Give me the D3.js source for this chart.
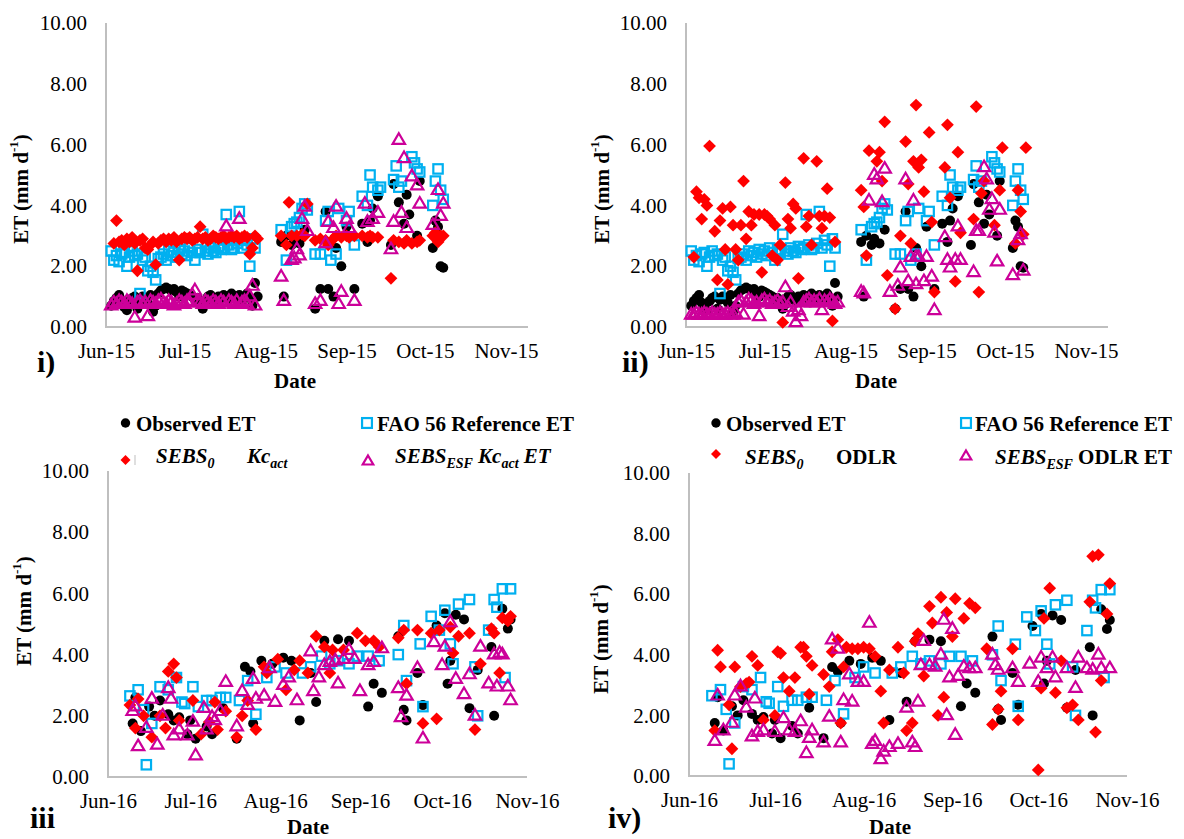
<!DOCTYPE html>
<html>
<head>
<meta charset="utf-8">
<script src="https://cdn.jsdelivr.net/npm/d3@7"></script>
<style>
  body { margin: 0; background: #fff; }
  svg { display: block; }
  text { font-family: "Liberation Serif", "Times New Roman", "DejaVu Serif", serif; fill: #000; }
</style>
</head>
<body>
<svg id="chart" width="1184" height="839"></svg>
<script>
// ---- Axis ticks ----
const yTicks = [0, 2, 4, 6, 8, 10];
const monthTicks = ["06-01", "07-01", "08-01", "09-01", "10-01", "11-01"];

// ---- 2015 season (panels i and ii): [month-day, ET mm/d] ----
const observed2015 = [
  ["06-03",0.7],["06-04",0.85],["06-05",0.95],["06-06",1.05],["06-07",0.8],["06-08",0.65],["06-09",0.55],["06-10",0.85],
  ["06-11",0.95],["06-12",1.0],["06-13",0.6],["06-14",0.9],["06-15",1.0],["06-16",0.95],["06-17",0.8],["06-18",1.05],
  ["06-19",0.5],["06-20",0.7],["06-21",1.1],["06-22",1.2],["06-23",1.25],["06-24",1.3],["06-25",1.25],["06-26",1.2],
  ["06-27",1.25],["06-28",1.15],["06-29",1.0],["06-30",1.2],["07-01",1.15],["07-02",1.1],["07-03",1.05],["07-04",1.0],
  ["07-05",0.9],["07-06",0.95],["07-07",0.8],["07-08",0.6],["07-09",0.75],["07-10",1.0],["07-11",1.05],["07-12",0.9],
  ["07-13",0.85],["07-14",1.0],["07-15",0.95],["07-16",1.05],["07-17",1.0],["07-18",0.9],["07-19",1.1],["07-20",0.95],
  ["07-21",1.0],["07-22",1.05],["07-23",0.85],["07-24",0.95],["07-25",1.1],["07-26",0.95],["07-27",0.7],["07-28",1.45],
  ["07-29",1.0],
  ["08-07",2.8],["08-08",1.0],["08-09",3.0],["08-11",2.7],["08-12",2.9],["08-14",2.75],["08-16",3.2],["08-20",0.6],
  ["08-22",1.25],["08-24",3.8],["08-25",1.25],["08-27",1.0],["08-28",2.6],["08-30",2.0],["09-01",3.3],["09-04",1.25],
  ["09-07",3.4],["09-09",2.8],["09-10",3.5],["09-11",3.9],["09-13",4.3],["09-18",2.7],["09-19",4.7],["09-21",4.1],
  ["09-23",3.4],["09-24",4.35],["09-25",3.7],["09-28",3.0],["09-29",4.8],["10-04",2.6],["10-05",3.5],["10-06",3.3],
  ["10-07",2.0],["10-08",1.95]
];
const fao2015 = [
  ["06-03",2.5],["06-04",2.2],["06-05",2.35],["06-06",2.15],["06-07",2.4],["06-08",2.45],["06-09",2.0],["06-10",2.3],
  ["06-11",2.5],["06-12",2.35],["06-13",2.4],["06-14",1.1],["06-15",2.2],["06-16",2.3],["06-17",1.85],["06-18",2.0],
  ["06-19",1.8],["06-20",1.55],["06-21",2.25],["06-22",2.3],["06-23",2.4],["06-24",2.2],["06-25",2.5],["06-26",2.35],
  ["06-27",2.45],["06-28",2.3],["06-29",2.55],["06-30",2.4],["07-01",2.5],["07-02",2.35],["07-03",2.6],["07-04",2.45],
  ["07-05",2.2],["07-06",2.55],["07-07",2.45],["07-08",3.05],["07-09",2.5],["07-10",2.4],["07-11",2.6],["07-12",2.5],
  ["07-13",2.45],["07-14",2.65],["07-15",2.55],["07-16",2.6],["07-17",3.7],["07-18",2.7],["07-19",2.55],["07-20",2.6],
  ["07-21",2.75],["07-22",3.8],["07-23",2.6],["07-24",2.85],["07-25",2.7],["07-26",2.0],["07-27",2.9],["07-28",2.6],
  ["08-07",3.2],["08-09",2.2],["08-11",3.3],["08-12",3.4],["08-13",3.45],["08-14",3.6],["08-15",3.9],["08-16",4.05],
  ["08-17",3.85],["08-20",2.4],["08-22",2.4],["08-24",3.5],["08-25",3.8],["08-26",2.2],["08-28",2.4],["08-29",3.9],
  ["09-01",3.5],["09-02",3.8],["09-04",2.7],["09-07",4.3],["09-09",4.0],["09-10",5.0],["09-11",4.6],["09-13",4.5],
  ["09-14",4.6],["09-19",4.85],["09-20",5.3],["09-21",4.6],["09-22",4.8],["09-26",5.6],["09-27",5.4],["09-28",5.2],
  ["09-29",5.1],["10-04",4.0],["10-05",4.8],["10-06",5.2],["10-07",4.5],["10-08",4.2]
];
const sebsKc2015 = [
  ["06-04",2.75],["06-05",3.5],["06-06",2.8],["06-07",2.85],["06-08",2.7],["06-09",2.9],["06-10",2.8],["06-11",2.95],
  ["06-12",2.75],["06-13",1.85],["06-14",2.85],["06-15",2.9],["06-16",2.6],["06-17",2.55],["06-18",2.7],["06-19",2.8],
  ["06-20",2.05],["06-21",2.75],["06-22",2.85],["06-23",2.9],["06-24",2.8],["06-25",2.9],["06-26",2.85],["06-27",2.95],
  ["06-28",2.8],["06-29",2.2],["06-30",2.9],["07-01",2.95],["07-02",2.9],["07-03",2.95],["07-04",2.85],["07-05",2.9],
  ["07-06",2.95],["07-07",3.3],["07-08",2.9],["07-09",2.95],["07-10",2.85],["07-11",2.9],["07-12",3.0],["07-13",2.95],
  ["07-14",2.9],["07-15",2.95],["07-16",3.0],["07-17",2.9],["07-18",2.95],["07-19",3.0],["07-20",2.95],["07-21",3.0],
  ["07-22",2.9],["07-23",2.95],["07-24",3.0],["07-25",2.95],["07-26",2.4],["07-27",2.6],["07-28",3.0],["07-29",2.9],
  ["08-07",3.0],["08-09",2.7],["08-10",4.1],["08-11",3.0],["08-13",3.0],["08-15",3.05],["08-16",3.0],["08-17",4.05],
  ["08-20",2.85],["08-22",2.9],["08-24",2.85],["08-25",2.7],["08-27",2.9],["08-28",3.0],["08-30",2.95],["09-01",3.0],
  ["09-02",2.95],["09-04",3.0],["09-07",3.0],["09-09",2.95],["09-10",3.0],["09-11",2.95],["09-13",2.95],["09-18",1.6],
  ["09-19",2.85],["09-21",2.8],["09-23",2.75],["09-24",2.85],["09-26",2.75],["09-28",2.8],["09-29",2.85],["10-04",3.0],
  ["10-05",3.1],["10-06",2.8],["10-07",3.0],["10-08",3.0]
];
const esfKc2015 = [
  ["06-03",0.75],["06-04",0.85],["06-05",0.8],["06-06",0.9],["06-07",0.85],["06-08",0.8],["06-09",0.9],["06-10",0.85],
  ["06-11",0.8],["06-12",0.35],["06-13",0.85],["06-14",0.9],["06-15",0.8],["06-16",0.85],["06-17",0.4],["06-18",0.9],
  ["06-19",0.85],["06-20",0.8],["06-21",0.9],["06-22",0.95],["06-23",0.85],["06-24",0.8],["06-25",0.9],["06-26",0.85],
  ["06-27",0.75],["06-28",0.8],["06-29",0.9],["06-30",0.85],["07-01",0.8],["07-02",0.9],["07-03",0.85],["07-04",1.1],
  ["07-05",1.25],["07-06",0.9],["07-07",0.85],["07-08",0.8],["07-09",0.9],["07-10",0.85],["07-11",0.8],["07-12",0.9],
  ["07-13",0.85],["07-14",0.8],["07-15",0.9],["07-16",0.85],["07-17",3.35],["07-18",0.9],["07-19",0.85],["07-20",0.8],
  ["07-21",0.9],["07-22",3.6],["07-23",0.85],["07-24",0.9],["07-25",0.8],["07-26",1.05],["07-27",1.4],["07-28",0.75],
  ["08-07",1.7],["08-08",0.9],["08-11",2.25],["08-12",2.3],["08-13",2.6],["08-14",2.4],["08-15",3.6],["08-16",4.0],
  ["08-17",3.2],["08-20",0.8],["08-22",0.9],["08-24",2.8],["08-25",3.5],["08-27",3.3],["08-28",4.0],["08-29",0.8],
  ["08-30",1.2],["09-01",3.6],["09-02",3.3],["09-04",0.9],["09-08",4.1],["09-09",3.5],["09-11",3.6],["09-13",3.8],
  ["09-18",2.6],["09-19",3.5],["09-21",6.2],["09-22",3.8],["09-23",5.6],["09-24",3.3],["09-26",5.0],["09-28",4.7],
  ["09-29",4.1],["10-04",3.4],["10-06",4.55],["10-07",3.7],["10-08",4.1]
];
const sebsOdlr2015 = [
  ["06-04",2.3],["06-05",4.45],["06-06",4.25],["06-07",3.55],["06-08",4.2],["06-09",4.0],["06-10",5.95],["06-12",3.15],
  ["06-13",1.55],["06-14",3.5],["06-15",3.9],["06-16",2.55],["06-17",1.4],["06-18",3.95],["06-19",3.35],["06-20",2.55],
  ["06-21",2.2],["06-22",3.35],["06-23",4.8],["06-24",2.9],["06-25",3.8],["06-26",3.35],["06-27",3.7],["06-29",3.7],
  ["06-30",1.8],["07-01",3.7],["07-02",3.65],["07-03",3.55],["07-04",2.35],["07-05",3.35],["07-06",2.2],["07-07",2.7],
  ["07-08",0.15],["07-09",4.75],["07-10",3.55],["07-11",3.25],["07-12",4.05],["07-13",3.9],["07-14",1.6],["07-16",5.55],
  ["07-17",3.3],["07-18",3.65],["07-19",2.7],["07-21",5.45],["07-22",3.65],["07-23",3.25],["07-24",3.65],["07-25",4.55],
  ["07-26",3.6],["07-27",0.2],["07-28",2.8],
  ["08-07",4.5],["08-08",3.95],["08-09",2.35],["08-10",5.8],["08-13",5.45],["08-14",5.75],["08-15",4.8],["08-16",6.75],
  ["08-17",1.7],["08-20",0.6],["08-22",3.0],["08-24",6.1],["08-25",4.7],["08-26",2.75],["08-27",5.45],["08-28",7.3],
  ["08-29",5.25],["08-30",5.5],["08-31",4.45],["09-02",6.4],["09-03",3.45],["09-04",1.15],["09-08",5.25],["09-09",6.65],
  ["09-10",4.25],["09-12",1.5],["09-13",5.75],["09-14",3.1],["09-19",3.55],["09-20",7.25],["09-21",1.15],["09-22",4.4],
  ["09-23",4.8],["09-27",3.35],["09-29",4.5],["09-30",5.9],["10-05",2.75],["10-06",4.5],["10-07",3.8],["10-08",3.05],
  ["10-09",5.9]
];
const esfOdlr2015 = [
  ["06-03",0.45],["06-04",0.45],["06-05",0.5],["06-06",0.45],["06-07",0.45],["06-08",0.5],["06-09",0.45],["06-10",0.45],
  ["06-11",0.5],["06-12",0.45],["06-13",0.45],["06-14",0.5],["06-15",0.45],["06-16",0.45],["06-17",0.5],["06-18",0.45],
  ["06-19",0.45],["06-20",0.5],["06-21",0.85],["06-22",0.9],["06-23",0.45],["06-24",0.85],["06-25",0.95],["06-26",0.9],
  ["06-27",0.8],["06-28",0.85],["06-29",0.4],["06-30",0.9],["07-01",0.95],["07-02",0.85],["07-03",0.9],["07-04",0.8],
  ["07-05",0.85],["07-06",0.9],["07-07",0.8],["07-08",0.85],["07-09",1.35],["07-10",0.7],["07-11",0.85],["07-12",0.55],
  ["07-13",0.2],["07-14",0.6],["07-15",0.4],["07-16",0.85],["07-17",0.9],["07-18",0.95],["07-19",0.85],["07-20",0.9],
  ["07-21",0.85],["07-22",0.95],["07-23",0.6],["07-24",0.9],["07-25",0.85],["07-26",0.95],["07-27",0.9],["07-28",0.8],
  ["07-29",0.85],
  ["08-07",1.2],["08-08",1.15],["08-10",4.2],["08-12",5.05],["08-13",4.9],["08-15",4.15],["08-16",5.25],["08-18",1.2],
  ["08-21",1.4],["08-22",2.0],["08-24",4.9],["08-25",1.55],["08-26",2.35],["08-27",4.2],["08-28",2.35],["08-28",1.45],
  ["08-29",2.35],["08-31",1.55],["09-01",2.35],["09-03",1.7],["09-04",0.6],["09-08",3.0],["09-09",2.25],["09-10",2.0],
  ["09-12",2.25],["09-13",3.35],["09-14",2.25],["09-19",1.85],["09-20",3.2],["09-21",3.2],["09-23",5.3],["09-24",4.9],
  ["09-25",3.9],["09-26",4.25],["09-27",3.15],["09-28",2.2],["09-29",3.9],["10-04",1.75],["10-06",2.9],["10-07",3.1],
  ["10-08",1.9]
];

// ---- 2016 season (panels iii and iv) ----
const observed2016 = [
  ["06-10",1.75],["06-11",2.6],["06-13",1.5],["06-16",2.3],["06-18",2.0],["06-20",2.5],["06-23",2.05],["06-25",1.85],
  ["06-27",1.95],["06-30",1.4],["07-01",1.85],["07-03",1.25],["07-07",1.65],["07-09",1.4],["07-13",2.25],["07-18",1.25],
  ["07-21",3.6],["07-23",3.45],["07-24",1.75],["07-27",3.8],["07-31",3.7],["08-04",3.9],["08-07",3.8],["08-10",1.85],
  ["08-14",3.4],["08-16",2.45],["08-19",4.45],["08-24",4.5],["08-28",4.45],["09-04",2.3],["09-06",3.05],["09-09",2.75],
  ["09-15",4.6],["09-17",2.2],["09-18",1.85],["09-22",3.4],["09-24",2.35],["09-29",4.95],["10-02",5.35],["10-03",3.05],
  ["10-04",3.8],["10-06",5.3],["10-09",5.15],["10-11",2.25],["10-14",3.5],["10-19",4.25],["10-20",2.0],["10-23",5.5],
  ["10-25",4.85],["10-26",5.15]
];
const fao2016 = [
  ["06-09",2.65],["06-12",2.85],["06-14",2.2],["06-15",0.4],["06-17",1.75],["06-20",2.95],["06-23",2.85],["06-26",3.25],
  ["06-28",2.45],["06-29",2.4],["07-02",2.95],["07-04",2.3],["07-07",2.5],["07-09",2.5],["07-12",2.6],["07-14",2.6],
  ["07-19",2.5],["07-22",3.15],["07-25",2.05],["07-29",3.25],["08-01",3.6],["08-05",3.4],["08-11",3.4],["08-14",3.6],
  ["08-18",3.95],["08-21",3.7],["08-24",3.8],["08-28",3.7],["08-31",3.95],["09-04",3.95],["09-08",3.8],["09-15",4.0],
  ["09-17",4.95],["09-18",3.15],["09-23",4.35],["09-24",2.3],["09-27",5.25],["09-30",4.8],["10-02",5.45],["10-04",4.35],
  ["10-05",3.7],["10-07",5.65],["10-11",5.8],["10-13",3.6],["10-14",2.0],["10-18",4.8],["10-20",5.8],["10-21",5.55],
  ["10-23",6.15],["10-24",3.25],["10-26",6.15]
];
const sebsKc2016 = [
  ["06-09",2.35],["06-11",1.6],["06-12",2.55],["06-14",2.0],["06-17",1.3],["06-20",2.0],["06-22",1.6],["06-23",3.45],
  ["06-25",3.7],["06-26",3.25],["06-27",1.85],["07-02",2.5],["07-05",1.4],["07-08",1.8],["07-10",2.45],["07-11",1.55],
  ["07-14",2.15],["07-18",1.3],["07-20",2.0],["07-22",2.5],["07-25",1.55],["07-28",3.6],["07-29",3.4],["08-02",3.85],
  ["08-05",2.85],["08-08",3.5],["08-10",3.8],["08-13",3.4],["08-16",4.6],["08-19",4.25],["08-21",3.4],["08-22",4.15],
  ["08-26",4.15],["08-31",4.7],["09-03",4.45],["09-06",4.45],["09-08",4.25],["09-15",4.55],["09-17",4.8],["09-18",3.05],
  ["09-22",4.8],["09-24",1.75],["09-27",4.7],["09-29",1.9],["09-30",4.8],["10-04",4.9],["10-05",4.05],["10-07",4.6],
  ["10-11",4.7],["10-13",1.55],["10-15",3.7],["10-19",4.85],["10-20",4.7],["10-22",3.4],["10-23",5.2],["10-25",5.1],
  ["10-26",5.25]
];
const esfKc2016 = [
  ["06-10",2.2],["06-11",2.35],["06-12",1.05],["06-15",1.65],["06-17",2.6],["06-19",1.1],["06-21",2.05],["06-23",2.95],
  ["06-24",2.6],["06-25",1.4],["06-27",1.6],["06-30",1.4],["07-02",1.85],["07-03",0.75],["07-06",2.3],["07-07",1.6],
  ["07-09",2.0],["07-10",1.9],["07-12",2.2],["07-14",3.15],["07-18",1.7],["07-20",2.85],["07-22",2.4],["07-24",3.25],
  ["07-25",2.6],["07-28",2.7],["07-30",3.6],["08-01",2.5],["08-04",3.05],["08-06",3.3],["08-09",2.55],["08-14",4.15],
  ["08-15",2.85],["08-17",3.3],["08-19",3.7],["08-21",3.8],["08-23",3.85],["08-24",3.1],["08-26",3.9],["08-28",4.2],
  ["08-30",3.9],["09-01",2.85],["09-04",3.7],["09-06",3.8],["09-09",4.25],["09-15",2.95],["09-16",2.0],["09-18",2.7],
  ["09-22",3.6],["09-24",1.3],["09-28",4.45],["10-01",3.7],["10-02",4.3],["10-04",5.1],["10-06",3.25],["10-09",2.75],
  ["10-11",3.4],["10-13",2.05],["10-15",4.3],["10-18",3.1],["10-20",4.05],["10-21",3.0],["10-22",4.1],["10-23",4.05],
  ["10-25",3.0],["10-26",2.55]
];
const sebsOdlr2016 = [
  ["06-10",1.5],["06-11",4.15],["06-12",3.6],["06-15",2.35],["06-16",0.9],["06-17",3.6],["06-19",2.95],["06-21",3.05],
  ["06-22",3.1],["06-23",3.95],["06-25",3.65],["06-27",1.85],["07-01",2.0],["07-02",4.1],["07-03",4.05],["07-04",3.25],
  ["07-06",2.8],["07-08",3.25],["07-10",4.25],["07-11",4.25],["07-12",3.95],["07-13",2.7],["07-14",3.65],["07-18",3.35],
  ["07-20",2.95],["07-21",4.1],["07-23",4.5],["07-24",1.75],["07-25",3.6],["07-26",4.25],["07-28",4.2],["07-30",4.2],
  ["08-01",4.25],["08-03",4.2],["08-05",3.95],["08-07",2.8],["08-08",1.75],["08-10",3.5],["08-13",4.25],["08-15",3.4],
  ["08-16",1.5],["08-18",1.75],["08-19",4.45],["08-20",4.7],["08-22",3.3],["08-24",5.6],["08-25",5.05],["08-27",2.0],
  ["08-28",5.9],["08-29",2.6],["08-30",5.4],["09-01",4.6],["09-02",5.85],["09-05",5.2],["09-07",5.7],["09-09",5.55],
  ["09-13",4.2],["09-15",1.7],["09-17",2.2],["09-18",2.8],["09-22",4.2],["09-24",1.85],["10-01",0.2],["10-02",2.9],
  ["10-03",5.2],["10-05",6.2],["10-07",2.75],["10-09",3.8],["10-11",2.25],["10-13",2.35],["10-15",1.85],["10-19",5.75],
  ["10-20",7.25],["10-21",1.45],["10-22",7.3],["10-23",3.15],["10-25",5.35],["10-26",6.35]
];
const esfOdlr2016 = [
  ["06-10",1.2],["06-11",2.7],["06-13",1.55],["06-16",1.8],["06-17",2.7],["06-19",3.0],["06-21",2.3],["06-23",1.35],
  ["06-24",2.6],["06-25",1.5],["06-27",1.55],["07-01",1.5],["07-04",1.95],["07-06",1.55],["07-08",1.5],["07-10",1.85],
  ["07-12",0.8],["07-13",1.3],["07-14",1.55],["07-18",1.15],["07-20",2.0],["07-21",4.55],["07-23",4.25],["07-24",1.15],
  ["07-25",2.55],["07-27",3.4],["07-28",2.5],["07-30",3.15],["08-01",3.15],["08-03",5.1],["08-04",1.1],["08-05",1.2],
  ["08-07",0.6],["08-08",0.85],["08-10",1.0],["08-13",1.1],["08-16",2.3],["08-18",1.15],["08-19",1.0],["08-20",2.5],
  ["08-21",3.7],["08-22",4.5],["08-24",3.7],["08-26",3.65],["08-28",4.05],["08-29",5.2],["08-30",2.05],["08-31",3.3],
  ["09-01",4.9],["09-02",1.4],["09-03",3.35],["09-05",3.65],["09-07",3.6],["09-09",3.6],["09-15",4.05],["09-16",3.7],
  ["09-17",3.55],["09-22",3.6],["09-24",3.15],["09-28",3.75],["10-01",3.15],["10-02",3.95],["10-04",3.6],["10-06",3.95],
  ["10-07",3.3],["10-11",3.6],["10-14",2.95],["10-15",3.95],["10-18",3.6],["10-20",3.55],["10-22",4.05],["10-23",3.6],
  ["10-26",3.6]
];

// ---- Series styling ----
const C_OBS = "#000000", C_FAO = "#00B0F0", C_SEBS = "#FF0000", C_ESF = "#CC0099";
const markerKinds = ["circle", "square", "diamond", "triangle"];
const FONT = "'Liberation Serif', 'Times New Roman', 'DejaVu Serif', serif";

// ---- Panel layout ----
const panels = [
  { tag: "i)",  year: 2015, series: [observed2015, fao2015, sebsKc2015, esfKc2015],
    x0: 106, xNov: 506, xEnd: 528, yTop: 23, yBot: 327,
    tagX: 37, tagY: 372, dateX: 295, dateY: 388, yTitleX: 21, yTitleY: 189 },
  { tag: "ii)", year: 2015, series: [observed2015, fao2015, sebsOdlr2015, esfOdlr2015],
    x0: 686, xNov: 1086, xEnd: 1108, yTop: 23, yBot: 327,
    tagX: 622, tagY: 372, dateX: 876, dateY: 388, yTitleX: 602, yTitleY: 189 },
  { tag: "iii", year: 2016, series: [observed2016, fao2016, sebsKc2016, esfKc2016],
    x0: 108, xNov: 527, xEnd: 527, yTop: 471, yBot: 777,
    tagX: 30, tagY: 828, dateX: 308, dateY: 834, yTitleX: 24, yTitleY: 611 },
  { tag: "iv)", year: 2016, series: [observed2016, fao2016, sebsOdlr2016, esfOdlr2016],
    x0: 689, xNov: 1127, xEnd: 1127, yTop: 473, yBot: 776,
    tagX: 608, tagY: 828, dateX: 890, dateY: 834, yTitleX: 601, yTitleY: 639 }
];

const svg = d3.select("#chart").attr("font-family", FONT);
const toDate = (year, md) => new Date(`${year}-${md}T00:00:00Z`);

// Marker shapes
function drawMarker(sel, kind, cx, cy, scale = 1) {
  if (kind === "circle") {
    sel.append("circle").attr("cx", cx).attr("cy", cy).attr("r", 5 * scale).attr("fill", C_OBS);
  } else if (kind === "square") {
    const s = 9.4 * scale;
    sel.append("rect").attr("x", cx - s / 2).attr("y", cy - s / 2).attr("width", s).attr("height", s)
      .attr("fill", "none").attr("stroke", C_FAO).attr("stroke-width", 2.2);
  } else if (kind === "diamond") {
    const h = 6.4 * scale;
    sel.append("path").attr("d", `M${cx},${cy - h}L${cx + h},${cy}L${cx},${cy + h}L${cx - h},${cy}Z`)
      .attr("fill", C_SEBS);
  } else {
    const w = 6.2 * scale, ht = 10.6 * scale;
    sel.append("path").attr("d", `M${cx},${cy - ht / 2}L${cx + w},${cy + ht / 2}L${cx - w},${cy + ht / 2}Z`)
      .attr("fill", "none").attr("stroke", C_ESF).attr("stroke-width", 2.2).attr("stroke-linejoin", "miter");
  }
}

function drawPanel(p) {
  const g = svg.append("g");
  const x = d3.scaleUtc([toDate(p.year, "06-01"), toDate(p.year, "11-01")], [p.x0, p.xNov]);
  const y = d3.scaleLinear([0, 10], [p.yBot, p.yTop]);

  // Axis lines
  g.append("line").attr("x1", p.x0).attr("x2", p.x0).attr("y1", p.yTop).attr("y2", p.yBot)
    .attr("stroke", "#BFBFBF").attr("stroke-width", 2);
  g.append("line").attr("x1", p.x0 - 1).attr("x2", p.xEnd).attr("y1", p.yBot).attr("y2", p.yBot)
    .attr("stroke", "#BFBFBF").attr("stroke-width", 2);

  // Y axis ticks
  g.append("g").attr("transform", `translate(${p.x0},0)`)
    .call(d3.axisLeft(y).tickValues(yTicks).tickFormat(d3.format(".2f")).tickSize(0).tickPadding(19))
    .call(a => a.select(".domain").remove())
    .call(a => a.attr("font-family", FONT))
    .call(a => a.selectAll("text").attr("font-family", FONT).attr("font-size", 21).attr("fill", "#000"));

  // X axis ticks (months)
  g.append("g").attr("transform", `translate(0,${p.yBot})`)
    .call(d3.axisBottom(x).tickValues(monthTicks.map(m => toDate(p.year, m)))
      .tickFormat(d3.utcFormat("%b-%y")).tickSize(0).tickPadding(16))
    .call(a => a.select(".domain").remove())
    .call(a => a.attr("font-family", FONT))
    .call(a => a.selectAll("text").attr("font-family", FONT).attr("font-size", 21).attr("fill", "#000"));

  // Points, drawn series by series
  p.series.forEach((data, k) => {
    const sg = g.append("g");
    data.forEach(([md, v]) => drawMarker(sg, markerKinds[k], x(toDate(p.year, md)), y(v)));
  });

  // Axis titles
  g.append("text").attr("x", p.dateX).attr("y", p.dateY).attr("text-anchor", "middle")
    .attr("font-weight", "bold").attr("font-size", 21).text("Date");
  const yt = g.append("text").attr("transform", `translate(${p.yTitleX},${p.yTitleY}) rotate(-90)`)
    .attr("text-anchor", "middle").attr("dominant-baseline", "central")
    .attr("font-weight", "bold").attr("font-size", 21);
  yt.append("tspan").text("ET (mm d");
  yt.append("tspan").attr("font-size", 13).attr("dy", -8).text("-1");
  yt.append("tspan").attr("dy", 8).text(")");

  // Panel tag
  g.append("text").attr("x", p.tagX).attr("y", p.tagY).attr("font-weight", "bold").attr("font-size", 30).text(p.tag);
}

panels.forEach(drawPanel);

// ---- Legends above the lower panels ----
function legendText(x, y, parts) {
  const t = svg.append("text").attr("x", x).attr("y", y).attr("font-size", 21).attr("font-weight", "bold");
  parts.forEach(pt => {
    const s = t.append("tspan").text(pt.t);
    if (pt.i) s.attr("font-style", "italic");
    if (pt.sub) s.attr("font-size", 14).attr("dy", 5);
    if (pt.back) s.attr("dy", -5);
  });
  return t;
}

// Panel iii legend
drawMarker(svg, "circle", 125.5, 423, 0.94);
legendText(136, 431, [{ t: "Observed ET" }]);
drawMarker(svg, "square", 367, 423, 1.05);
legendText(377, 431, [{ t: "FAO 56 Reference ET" }]);
drawMarker(svg, "diamond", 125.5, 460, 0.78);
svg.append("line").attr("x1", 135).attr("x2", 135).attr("y1", 455).attr("y2", 465).attr("stroke", "#BFBFBF").attr("stroke-width", 1);
legendText(156, 463, [{ t: "SEBS", i: true }, { t: "0", i: true, sub: true }]);
legendText(247, 463, [{ t: "Kc", i: true }, { t: "act", i: true, sub: true }]);
drawMarker(svg, "triangle", 368, 460, 0.85);
legendText(395, 463, [{ t: "SEBS", i: true }, { t: "ESF", i: true, sub: true }, { t: " Kc", i: true, back: true },
  { t: "act", i: true, sub: true }, { t: " ET", i: true, back: true }]);

// Panel iv legend
drawMarker(svg, "circle", 716, 423, 0.94);
legendText(726, 431, [{ t: "Observed ET" }]);
drawMarker(svg, "square", 966, 423, 1.05);
legendText(975, 431, [{ t: "FAO 56 Reference ET" }]);
drawMarker(svg, "diamond", 716, 454, 0.78);
legendText(745, 464, [{ t: "SEBS", i: true }, { t: "0", i: true, sub: true }]);
legendText(836, 464, [{ t: "ODLR" }]);
drawMarker(svg, "triangle", 966, 455, 0.85);
legendText(995, 464, [{ t: "SEBS", i: true }, { t: "ESF", i: true, sub: true }, { t: " ODLR ET", back: true }]);
</script>
</body>
</html>
